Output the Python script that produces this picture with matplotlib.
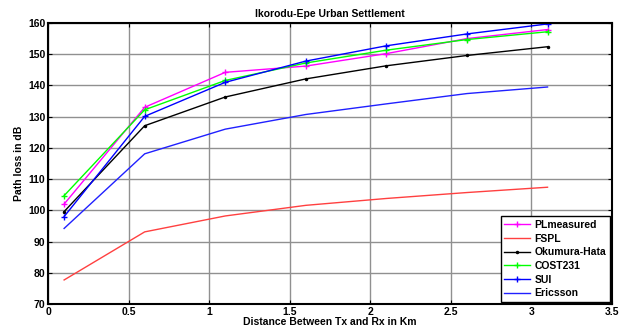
import numpy as np
from matplotlib import pyplot as plt

plt.rcParams['font.family'] = ['Liberation Sans', 'DejaVu Sans']
plt.rcParams['font.weight'] = 'bold'

dist = [0.1, 0.6, 1.1, 1.6, 2.1, 2.6, 3.1]
pl_measured = [102.0, 133.0, 144.2, 146.2, 150.2, 155.0, 157.9]
fspl = [77.7, 93.1, 98.2, 101.6, 103.8, 105.7, 107.4]
okumura = [99.6, 127.1, 136.3, 142.1, 146.3, 149.6, 152.4]
cost231 = [104.7, 132.2, 141.6, 147.2, 151.3, 154.7, 157.2]
sui = [98.0, 130.1, 141.0, 147.8, 152.7, 156.5, 159.7]
ericsson = [94.2, 118.1, 126.0, 130.7, 134.1, 137.4, 139.5]

fig = plt.figure(figsize=(6.29, 3.32), dpi=100)
ax = fig.add_axes([48/629, 1-304/332, (612-48)/629, (304-23)/332])

ax.plot(dist, pl_measured, color='#ff00ff', marker='+', ms=5, lw=1, label='PLmeasured')
ax.plot(dist, fspl, color='#ff4040', lw=1, label='FSPL')
ax.plot(dist, okumura, color='black', marker='.', ms=3, lw=1, label='Okumura-Hata')
ax.plot(dist, cost231, color='#00ff00', marker='+', ms=5, lw=1, label='COST231')
ax.plot(dist, sui, color='#0000ff', marker='+', ms=5, lw=1, label='SUI')
ax.plot(dist, ericsson, color='#2020ff', lw=1, label='Ericsson')

ax.set_xlim(0, 3.5)
ax.set_ylim(70, 160)
ax.set_xticks(np.arange(0, 3.51, 0.5))
ax.set_xticklabels(['0', '0.5', '1', '1.5', '2', '2.5', '3', '3.5'])
ax.set_yticks(np.arange(70, 161, 10))
ax.grid(True, color='#909090', lw=1)
ax.set_axisbelow(True)
ax.tick_params(direction='in', labelsize=7.5, length=3, pad=2, top=True, right=True)
for s in ax.spines.values():
    s.set_linewidth(1.5)

ax.set_title('Ikorodu-Epe Urban Settlement', fontsize=7.5, fontweight='bold', pad=4)
ax.set_xlabel('Distance Between Tx and Rx in Km', fontsize=7.5, fontweight='bold', labelpad=0)
ax.set_ylabel('Path loss in dB', fontsize=7.5, fontweight='bold', labelpad=3)

leg = ax.legend(loc='lower right', fontsize=7.5, fancybox=False, framealpha=1,
                edgecolor='black', borderaxespad=0.2, handlelength=2.5,
                labelspacing=0.35, borderpad=0.35, handletextpad=0.4)
leg.get_frame().set_linewidth(1)

fig.savefig('out.png', dpi=100)
